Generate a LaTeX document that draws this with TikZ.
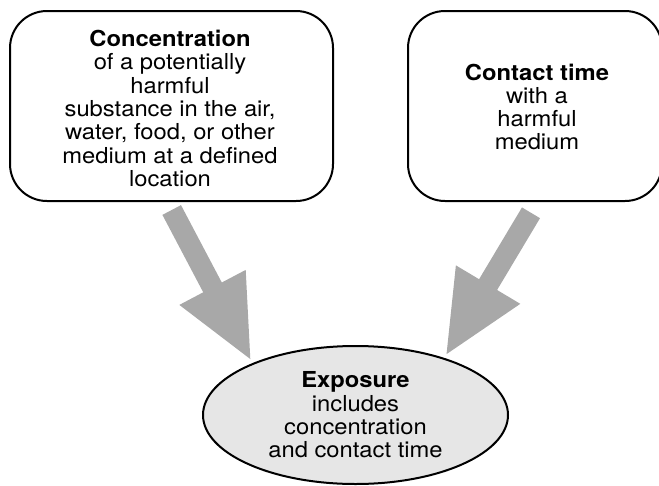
\documentclass[tikz,border=0pt]{standalone}
\usepackage{fontspec}
\setmainfont{TeX Gyre Heros}[FakeStretch=1.08]
\usetikzlibrary{arrows.meta,shapes.geometric}

\definecolor{arrgray}{RGB}{168,168,168}
\definecolor{ellfill}{RGB}{230,230,230}

\begin{document}
\begin{tikzpicture}[
    x=1pt, y=-1pt,
    font=\fontsize{22}{23.3}\selectfont,
    box/.style={draw, line width=2pt, rounded corners=37pt, inner sep=0pt},
    txt/.style={align=center, inner sep=0pt},
    ell/.style={draw, ellipse, line width=2pt, fill=ellfill, align=center, inner sep=0pt},
    bigarr/.style={draw=arrgray, line width=21pt, -{Triangle[length=84pt, width=68pt]}, arrgray}
]
\useasboundingbox (0,0) rectangle (659,485);

% =========================================================
% 1) INPUT BOXES
% =========================================================
\node[box, minimum width=323pt, minimum height=190pt] (concBox) at (171.5,106) {};
\node[txt] (conc) at (170,108.5)
{\textbf{Concentration}\\of a potentially\\harmful\\substance in the air,\\water, food, or other\\medium at a defined\\location};

\node[box, minimum width=254pt, minimum height=190pt] (contBox) at (535,106) {};
\node[txt] (cont) at (537,107)
{\textbf{Contact time}\\with a\\harmful\\medium};

% =========================================================
% 2) RESULT
% =========================================================
\node[ell, minimum width=305pt, minimum height=138pt] (expo) at (355.5,415)
{\textbf{Exposure}\\includes\\concentration\\and contact time};

% =========================================================
% 3) BIG ARROWS
% =========================================================
\coordinate (concOut) at (171.7,210);
\coordinate (concTip) at (251.7,361.7);
\coordinate (contOut) at (531,212.8);
\coordinate (contTip) at (445,356.7);

\draw[bigarr] (concOut) -- (concTip);
\draw[bigarr] (contOut) -- (contTip);

\end{tikzpicture}
\end{document}
